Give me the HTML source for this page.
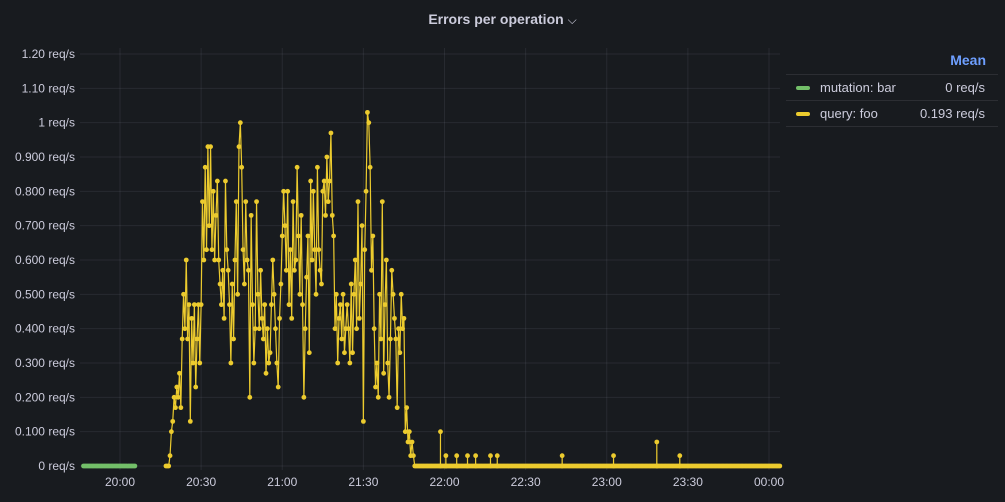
<!DOCTYPE html>
<html><head><meta charset="utf-8"><style>
body{margin:0;background:#181b1f;font-family:"Liberation Sans",sans-serif;}
#wrap{position:relative;width:1005px;height:502px;background:#181b1f;overflow:hidden;}
.title{position:absolute;top:11px;left:0;width:1005px;text-align:center;color:#ccccdc;font-size:14px;font-weight:bold;}
.legend{position:absolute;left:786px;top:48px;width:212px;color:#ccccdc;font-size:13px;}
.lrow{position:relative;height:25px;border-top:1px solid #2c2e33;}
.lrow span{position:absolute;top:5px;}
</style></head><body>
<div id="wrap">
<div class="title">Errors per operation <span style="font-weight:normal;font-size:12px">⌵</span></div>
<svg id="chart" width="1005" height="502" style="position:absolute;left:0;top:0"></svg>
<div class="legend">
 <div style="height:26px;text-align:right;color:#6e9fff;font-weight:bold;font-size:14px;padding-right:12px;line-height:24px">Mean</div>
 <div class="lrow"><span style="left:10px;top:11px;width:14px;height:4px;background:#73bf69;border-radius:2px"></span><span style="left:34px">mutation: bar</span><span style="right:13px">0 req/s</span></div>
 <div class="lrow" style="border-bottom:1px solid #2c2e33"><span style="left:10px;top:11px;width:14px;height:4px;background:#eccb2e;border-radius:2px"></span><span style="left:34px">query: foo</span><span style="right:13px">0.193 req/s</span></div>
</div>
</div>
<script>
// minutes since 20:00
const yTicks=[0,0.1,0.2,0.3,0.4,0.5,0.6,0.7,0.8,0.9,1.0,1.1,1.2];
const yTickLabels=["0 req/s","0.100 req/s","0.200 req/s","0.300 req/s","0.400 req/s","0.500 req/s","0.600 req/s","0.700 req/s","0.800 req/s","0.900 req/s","1 req/s","1.10 req/s","1.20 req/s"];
const xTicks=[0,30,60,90,120,150,180,210,240];
const xTickLabels=["20:00","20:30","21:00","21:30","22:00","22:30","23:00","23:30","00:00"];
const mutationStart=-13.5, mutationEnd=5.5, mutationStep=0.5;
const queryStart=17, queryStep=0.5;
const queryValues=[0,0,0,0.03,0.1,0.13,0.2,0.17,0.23,0.2,
0.27,0.17,0.37,0.5,0.4,0.6,0.37,0.47,0.13,0.43,0.3,0.47,0.23,0.37,0.47,0.3,
0.47,0.77,0.6,0.87,0.63,0.93,0.7,0.93,0.63,0.8,0.6,0.73,0.83,0.6,
0.53,0.47,0.57,0.43,0.83,0.63,0.57,0.47,0.3,0.53,0.37,0.6,0.77,0.5,0.93,1.0,
0.87,0.63,0.53,0.77,0.6,0.57,0.2,0.73,0.47,0.3,0.4,0.77,0.5,0.4,
0.57,0.43,0.37,0.47,0.27,0.4,0.3,0.33,0.47,0.6,0.5,0.4,0.3,0.23,0.43,0.53,
0.67,0.8,0.7,0.57,0.8,0.47,0.63,0.43,0.77,0.57,0.6,0.87,0.67,0.5,0.73,0.47,
0.2,0.4,0.55,0.67,0.33,0.83,0.6,0.8,0.63,0.5,0.87,0.63,0.57,0.53,
0.8,0.83,0.73,0.9,0.77,0.83,0.97,0.73,0.67,0.4,0.5,0.3,0.43,0.47,0.37,0.5,
0.33,0.4,0.47,0.4,0.3,0.53,0.33,0.5,0.6,0.4,0.77,0.43,0.53,0.7,0.13,0.63,
0.8,1.03,1.0,0.87,0.57,0.67,0.4,0.23,0.3,0.2,0.5,0.37,0.77,0.27,0.47,
0.6,0.3,0.2,0.37,0.57,0.5,0.43,0.37,0.17,0.4,0.33,0.5,0.4,0.43,0.1,0.17,0.07,0.1,0.03,0.07,0.03,0];
const tailStart=109.5, tailEnd=244, tailStep=0.5;
const spikeTimes=[118.5,120.5,124.5,128.5,131.5,137,139.5,163.5,182.5,198.5,207];
const spikeValues=[0.1,0.03,0.03,0.03,0.03,0.03,0.03,0.03,0.03,0.07,0.03];

const NS="http://www.w3.org/2000/svg";
const svg=document.getElementById('chart');
const x0=120, pxPerMin=649/240, yZero=466, pxPerUnit=412/1.2;
const X=m=>x0+m*pxPerMin, Y=v=>yZero-v*pxPerUnit;
function mk(t,a){const e=document.createElementNS(NS,t);for(const k in a)e.setAttribute(k,a[k]);svg.appendChild(e);return e;}
yTicks.forEach((v,i)=>{
 const l=mk('line',{x1:80,x2:780,y1:Y(v),y2:Y(v),stroke:'rgba(204,204,220,0.09)'});
 
 
 const t=mk('text',{x:75,y:Y(v)+4,'text-anchor':'end',fill:'#ccccdc','font-size':12,'font-family':'Liberation Sans, sans-serif'});
 t.textContent=yTickLabels[i];
 
 
});
xTicks.forEach((m,i)=>{
 const l=mk('line',{x1:X(m),x2:X(m),y1:48,y2:470,stroke:'rgba(204,204,220,0.09)'});
 
 
 const t=mk('text',{x:X(m),y:486,'text-anchor':'middle',fill:'#ccccdc','font-size':12,'font-family':'Liberation Sans, sans-serif'});
 t.textContent=xTickLabels[i];
 
 
});
function series(pts,color,name){
 const p=mk('polyline',{points:pts.map(q=>X(q[0])+','+Y(q[1])).join(' '),fill:'none',stroke:color,'stroke-width':1.2});
 
 
 pts.forEach(q=>{const c=mk('circle',{cx:X(q[0]),cy:Y(q[1]),r:2.4,fill:color});
  
  });
}
const mpts=[];for(let m=mutationStart;m<=mutationEnd;m+=mutationStep)mpts.push([m,0]);
series(mpts,'#73bf69','mutation-series');
const qpts=queryValues.map((v,i)=>[queryStart+i*queryStep,v]);
for(let m=tailStart;m<=tailEnd;m+=tailStep){const k=spikeTimes.indexOf(m);qpts.push([m,0]);if(k>=0){qpts.push([m+0.01,spikeValues[k]]);qpts.push([m+0.02,0]);}}
qpts.sort((a,b)=>a[0]-b[0]);
series(qpts,'#eccb2e','query-series');
</script>
</body></html>
